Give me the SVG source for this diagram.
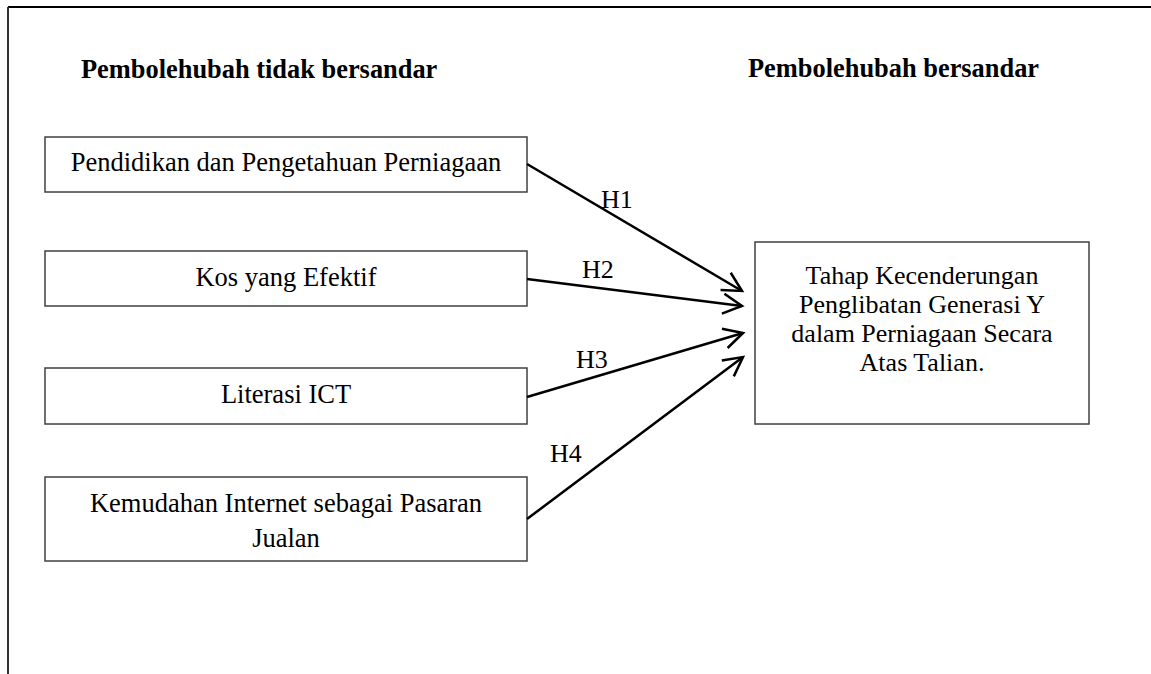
<svg xmlns="http://www.w3.org/2000/svg" width="1151" height="674" viewBox="0 0 1151 674">
<style>
.box{fill:#fff;stroke:#404040;stroke-width:1.5}
.t{font-family:"Liberation Serif","Times New Roman",serif;font-size:26.5px;fill:#000;text-anchor:middle}
.h{font-family:"Liberation Serif","Times New Roman",serif;font-size:26.4px;font-weight:bold;fill:#000}
.lbl{font-family:"Liberation Serif","Times New Roman",serif;font-size:26px;fill:#000}
.c{fill:none;stroke:#000;stroke-width:2.5}
</style>
<defs>
<marker id="arr" markerUnits="userSpaceOnUse" markerWidth="30" markerHeight="30" viewBox="-25 -15 30 30" refX="0" refY="0" orient="auto">
<path d="M-19,-10 L0,0 L-19,10" fill="none" stroke="#000" stroke-width="2.5"/>
</marker>
</defs>
<g id="frame">
<line x1="8" y1="7" x2="1151" y2="7" stroke="#000" stroke-width="2"/>
<line x1="8" y1="7" x2="8" y2="674" stroke="#333" stroke-width="2"/>
</g>
<g id="headings">
<text class="h" x="81" y="78">Pembolehubah tidak bersandar</text>
<text class="h" x="748" y="77">Pembolehubah bersandar</text>
</g>
<g id="n1">
<rect class="box" x="45" y="137" width="482" height="55"/>
<text class="t" x="286" y="171">Pendidikan dan Pengetahuan Perniagaan</text>
</g>
<g id="n2">
<rect class="box" x="45" y="251" width="482" height="55"/>
<text class="t" x="286" y="286">Kos yang Efektif</text>
</g>
<g id="n3">
<rect class="box" x="45" y="368" width="482" height="56"/>
<text class="t" x="286" y="403">Literasi ICT</text>
</g>
<g id="n4">
<rect class="box" x="45" y="477" width="482" height="84"/>
<text class="t" x="286" y="512">Kemudahan Internet sebagai Pasaran</text>
<text class="t" x="286" y="547">Jualan</text>
</g>
<g id="target">
<rect class="box" x="755" y="242" width="334" height="182"/>
<text class="t" x="922" y="284" style="font-size:26px">Tahap Kecenderungan</text>
<text class="t" x="922" y="313" style="font-size:26px">Penglibatan Generasi Y</text>
<text class="t" x="922" y="342" style="font-size:26px">dalam Perniagaan Secara</text>
<text class="t" x="922" y="371" style="font-size:26px">Atas Talian.</text>
</g>
<g id="connectors">
<line class="c" x1="527" y1="164" x2="742" y2="291" marker-end="url(#arr)"/>
<line class="c" x1="527" y1="279" x2="742" y2="306" marker-end="url(#arr)"/>
<line class="c" x1="527" y1="397" x2="743" y2="333" marker-end="url(#arr)"/>
<line class="c" x1="527" y1="519" x2="743" y2="357" marker-end="url(#arr)"/>
<text class="lbl" x="601" y="208">H1</text>
<text class="lbl" x="582" y="278">H2</text>
<text class="lbl" x="576" y="368">H3</text>
<text class="lbl" x="550" y="462">H4</text>
</g>
</svg>
